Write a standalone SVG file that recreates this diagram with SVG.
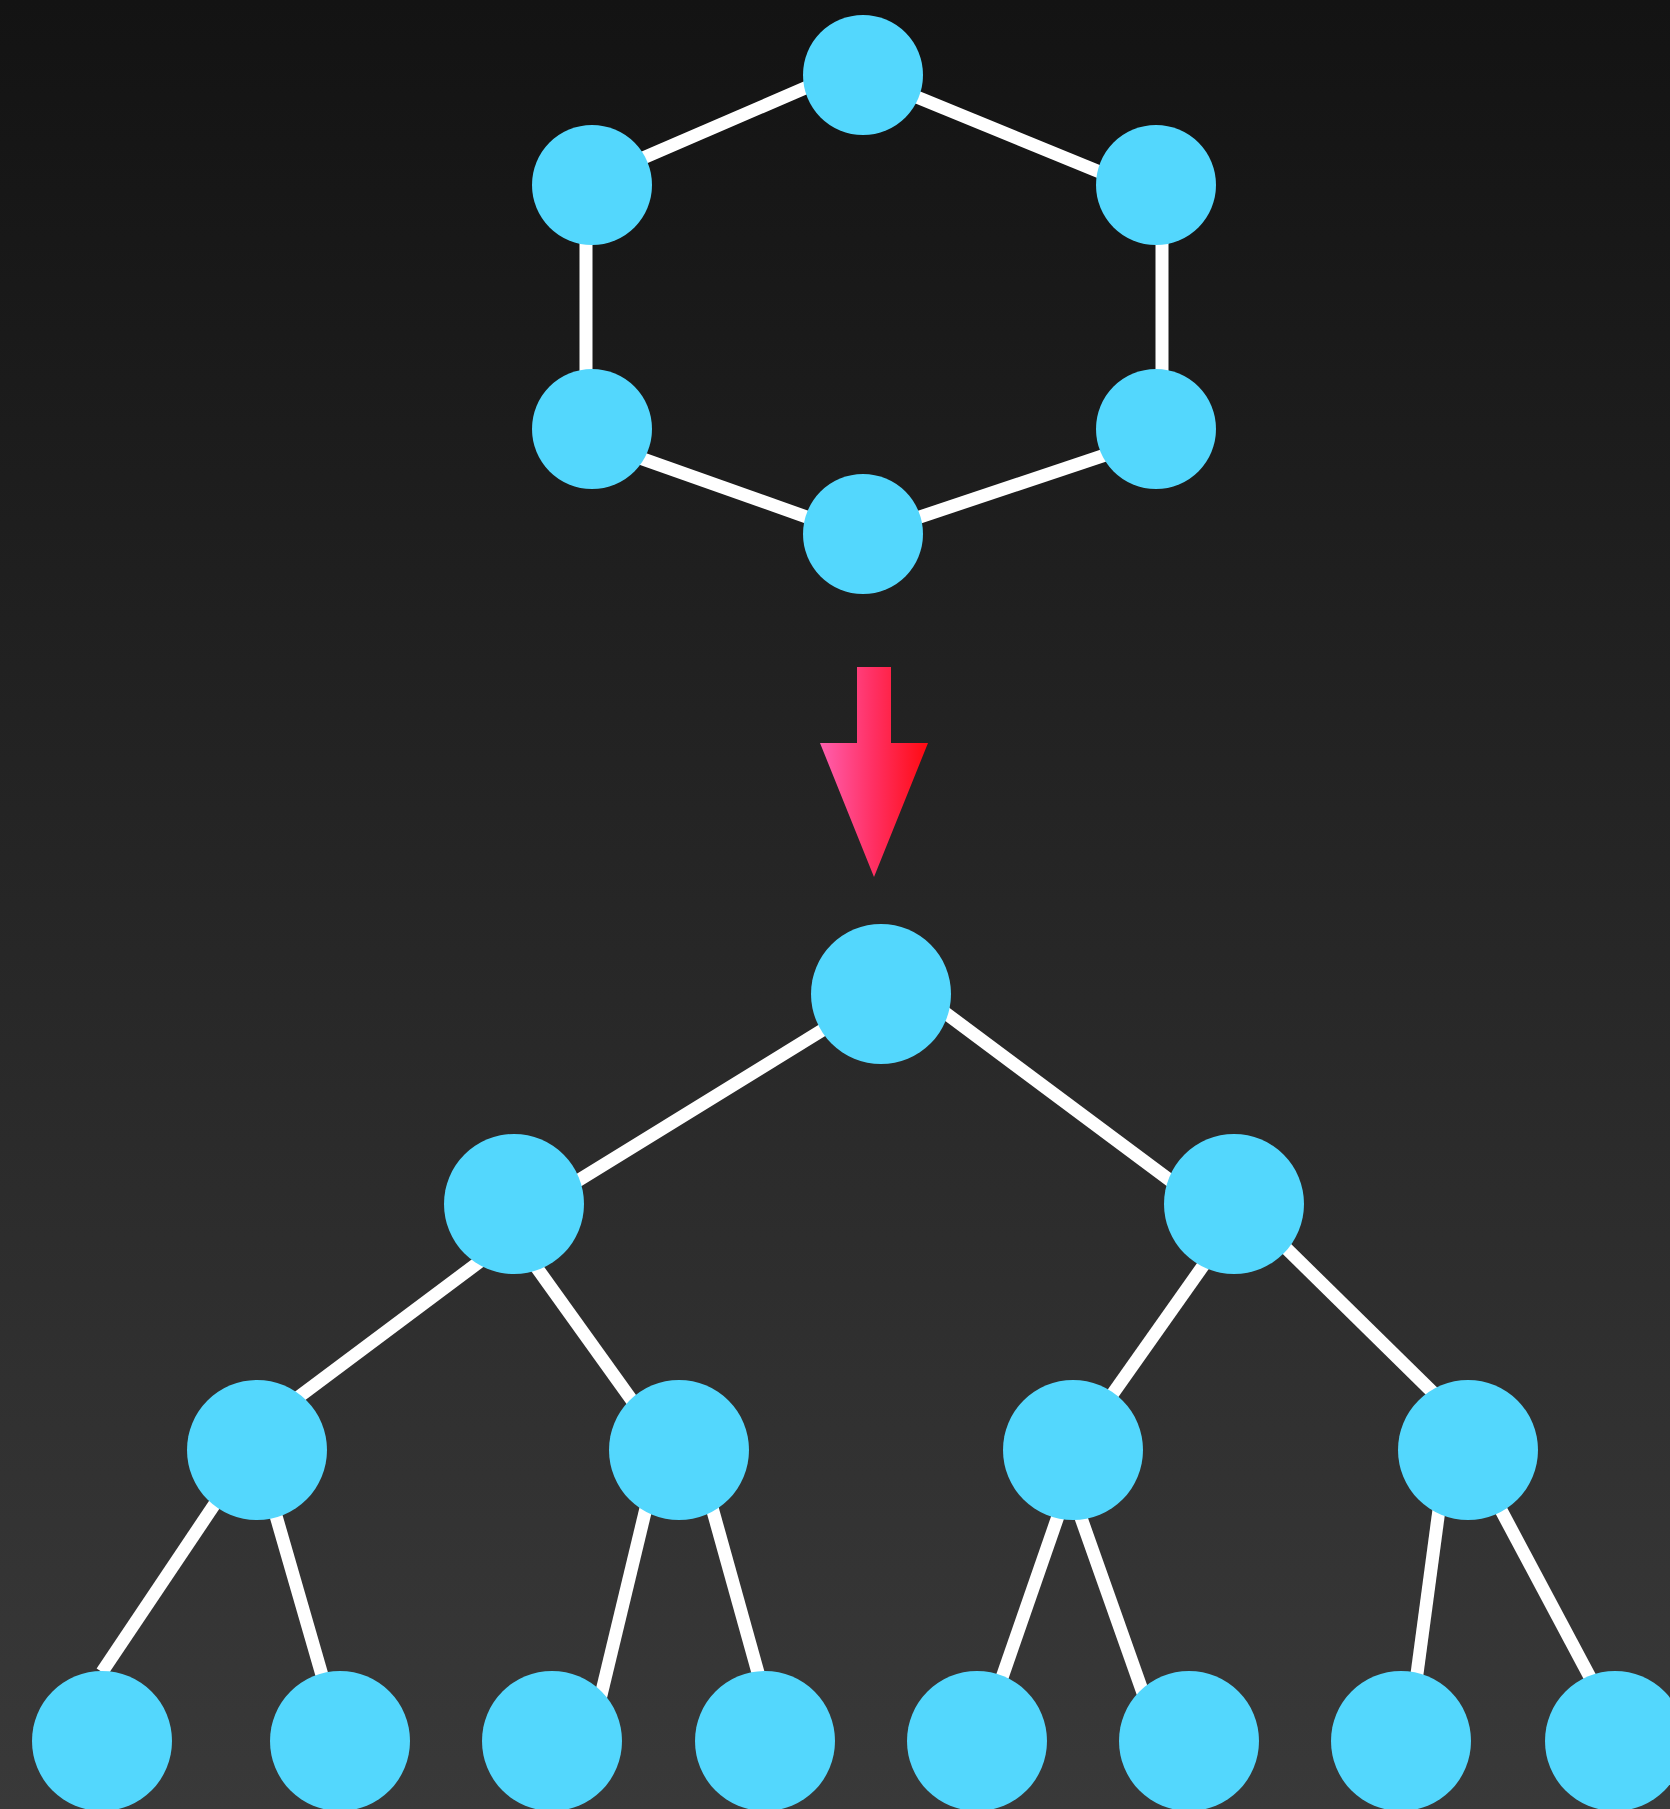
<svg xmlns="http://www.w3.org/2000/svg" width="1670" height="1809" viewBox="0 0 1670 1809">
  <defs>
    <linearGradient id="bg" x1="0" y1="0" x2="0" y2="1">
      <stop offset="0" stop-color="#131313"/>
      <stop offset="1" stop-color="#393939"/>
    </linearGradient>
    <linearGradient id="arrowFill" gradientUnits="userSpaceOnUse" x1="820" y1="0" x2="928" y2="0">
      <stop offset="0" stop-color="#ff5fae"/>
      <stop offset="0.5" stop-color="#ff2f62"/>
      <stop offset="1" stop-color="#ff0a10"/>
    </linearGradient>
    <style>
      .edge { stroke: #ffffff; stroke-width: 13; fill: none; }
      .node { fill: #53d7fd; }
    </style>
  </defs>

  <rect x="0" y="0" width="1670" height="1809" fill="url(#bg)"/>

  <!-- ring graph: edges -->
  <g id="ring-edges">
    <line class="edge" x1="592" y1="180" x2="863" y2="63"/>
    <line class="edge" x1="863" y1="75" x2="1156" y2="195"/>
    <line class="edge" x1="586" y1="185" x2="586" y2="429"/>
    <line class="edge" x1="1162" y1="185" x2="1162" y2="429"/>
    <line class="edge" x1="592" y1="441" x2="863" y2="537"/>
    <line class="edge" x1="863" y1="536" x2="1156" y2="438"/>
  </g>

  <!-- ring graph: nodes -->
  <g id="ring-top"><circle class="node" cx="863" cy="75" r="60"/></g>
  <g id="ring-upper-left"><circle class="node" cx="592" cy="185" r="60"/></g>
  <g id="ring-upper-right"><circle class="node" cx="1156" cy="185" r="60"/></g>
  <g id="ring-lower-left"><circle class="node" cx="592" cy="429" r="60"/></g>
  <g id="ring-lower-right"><circle class="node" cx="1156" cy="429" r="60"/></g>
  <g id="ring-bottom"><circle class="node" cx="863" cy="534" r="60"/></g>

  <!-- transformation arrow -->
  <g id="arrow">
    <path d="M857,667 H891 V743 H928 L874,877 L820,743 H857 Z" fill="url(#arrowFill)"/>
  </g>

  <!-- tree: edges -->
  <g id="tree-edges">
    <line class="edge" x1="881" y1="994" x2="514" y2="1220"/>
    <line class="edge" x1="881" y1="965" x2="1234" y2="1228"/>
    <line class="edge" x1="514" y1="1236" x2="257" y2="1428"/>
    <line class="edge" x1="514" y1="1236" x2="679" y2="1466"/>
    <line class="edge" x1="1234" y1="1222" x2="1073" y2="1450"/>
    <line class="edge" x1="1234" y1="1197" x2="1468" y2="1427"/>
    <line class="edge" x1="251" y1="1450" x2="102" y2="1672"/>
    <line class="edge" x1="257" y1="1450" x2="341" y2="1741"/>
    <line class="edge" x1="660" y1="1450" x2="590" y2="1741"/>
    <line class="edge" x1="696" y1="1450" x2="777" y2="1741"/>
    <line class="edge" x1="1081" y1="1450" x2="980" y2="1741"/>
    <line class="edge" x1="1057" y1="1450" x2="1160" y2="1741"/>
    <line class="edge" x1="1447" y1="1450" x2="1408" y2="1741"/>
    <line class="edge" x1="1469" y1="1450" x2="1624" y2="1741"/>
  </g>

  <!-- tree: nodes -->
  <g id="tree-root"><circle class="node" cx="881" cy="994" r="70"/></g>
  <g id="tree-l"><circle class="node" cx="514" cy="1204" r="70"/></g>
  <g id="tree-r"><circle class="node" cx="1234" cy="1204" r="70"/></g>
  <g id="tree-ll"><circle class="node" cx="257" cy="1450" r="70"/></g>
  <g id="tree-lr"><circle class="node" cx="679" cy="1450" r="70"/></g>
  <g id="tree-rl"><circle class="node" cx="1073" cy="1450" r="70"/></g>
  <g id="tree-rr"><circle class="node" cx="1468" cy="1450" r="70"/></g>
  <g id="leaf-1"><circle class="node" cx="102" cy="1741" r="70"/></g>
  <g id="leaf-2"><circle class="node" cx="340" cy="1741" r="70"/></g>
  <g id="leaf-3"><circle class="node" cx="552" cy="1741" r="70"/></g>
  <g id="leaf-4"><circle class="node" cx="765" cy="1741" r="70"/></g>
  <g id="leaf-5"><circle class="node" cx="977" cy="1741" r="70"/></g>
  <g id="leaf-6"><circle class="node" cx="1189" cy="1741" r="70"/></g>
  <g id="leaf-7"><circle class="node" cx="1401" cy="1741" r="70"/></g>
  <g id="leaf-8"><circle class="node" cx="1615" cy="1741" r="70"/></g>
</svg>
